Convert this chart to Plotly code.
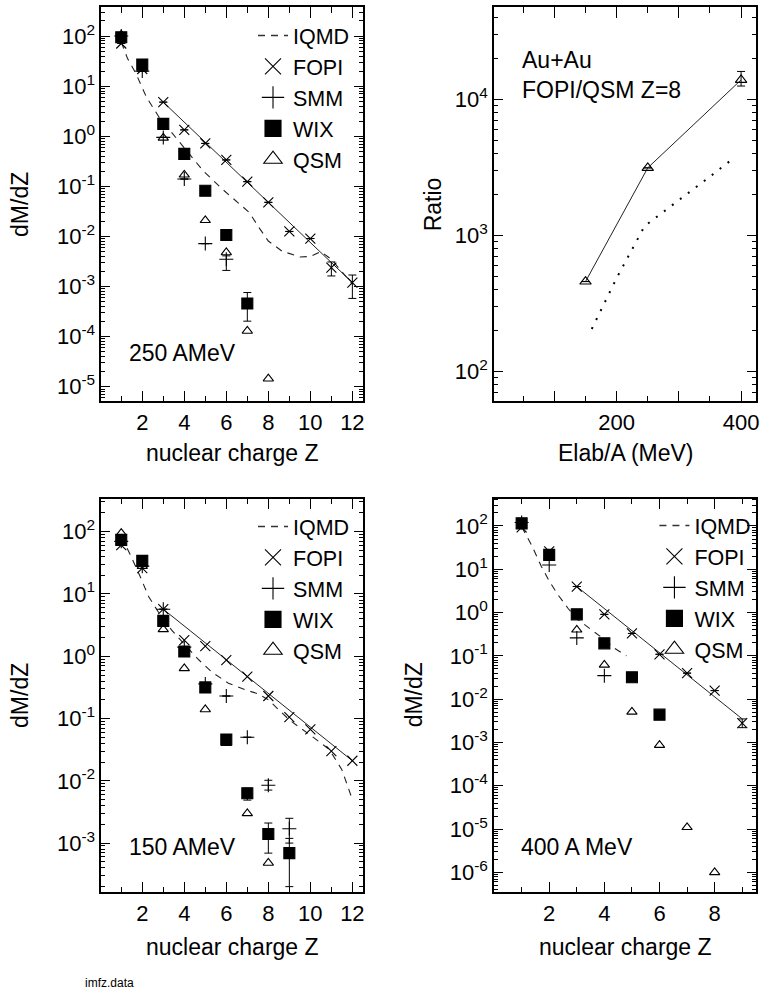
import plotly.graph_objects as go

# ---------------- data ----------------
# 250 AMeV panel
Z_FOPI_250 = [1, 2, 3, 4, 5, 6, 7, 8, 9, 10, 11, 12]
FOPI_250 = [71, 22, 4.8, 1.34, 0.72, 0.337, 0.124, 0.048, 0.0126, 0.0091, 0.0024, 0.0012]
FOPI_250_UP = [None, None, None, None, None, None, None, None, None, None, 0.0007, 0.0005]
FOPI_250_DN = [None, None, None, None, None, None, None, None, None, None, 0.00077, 0.00062]
Z_SMM_250 = [1, 2, 3, 4, 5, 6]
SMM_250 = [100, 20, 0.95, 0.14, 0.0072, 0.0035]
SMM_250_UP = [None, None, None, None, None, 0.0006]
SMM_250_DN = [None, None, None, None, None, 0.0014]
Z_WIX_250 = [1, 2, 3, 4, 5, 6, 7]
WIX_250 = [95, 27, 1.77, 0.445, 0.082, 0.0107, 0.00046]
WIX_250_UP = [None, None, None, None, None, None, 0.0003]
WIX_250_DN = [None, None, None, None, None, None, 0.000256]
Z_QSM_250 = [1, 2, 3, 4, 5, 6, 7, 8]
QSM_250 = [105, 22, 0.93, 0.17, 0.021, 0.0048, 0.00013, 1.45e-5]
Z_IQMD_250 = [1.0, 1.3, 1.7, 2.2, 2.8, 3.4, 4.1, 4.9, 5.8, 6.7, 7.1, 7.55, 8.0, 8.65, 9.5,
              10.0, 10.5, 11.0, 11.5, 12.0]
IQMD_250 = [75.9, 35.5, 17.8, 6.0, 2.4, 1.2, 0.51, 0.204, 0.089, 0.043, 0.030, 0.0151, 0.0081,
            0.0051, 0.0039, 0.0040, 0.0050, 0.0035, 0.0020, 0.00112]
Z_FIT_250 = [3, 12]
FIT_250 = [4.8, 0.0012]

# ratio panel
E_RATIO = [150, 250, 400]
RATIO = [457, 3130, 13870]
RATIO_UP = [None, None, 2130]
RATIO_DN = [None, None, 1370]
E_RATIO_IQMD = [160, 200, 245, 300, 350, 390]
RATIO_IQMD = [205, 485, 1170, 1800, 2700, 3750]

# 150 AMeV panel
Z_FOPI_150 = [1, 2, 3, 4, 5, 6, 7, 8, 9, 10, 11, 12]
FOPI_150 = [61, 26, 5.7, 1.82, 1.46, 0.87, 0.47, 0.23, 0.105, 0.067, 0.030, 0.021]
Z_SMM_150 = [1, 2, 3, 4, 5, 6, 7, 8, 9]
SMM_150 = [70, 28, 5.7, 1.4, 0.36, 0.23, 0.050, 0.0085, 0.0017]
SMM_150_UP = [None, None, None, None, None, None, None, 0.0017, 0.0008]
SMM_150_DN = [None, None, None, None, None, None, None, 0.0014, 0.0007]
Z_WIX_150 = [1, 2, 3, 4, 5, 6, 7, 8, 9]
WIX_150 = [74, 34, 3.7, 1.19, 0.316, 0.046, 0.0063, 0.0014, 0.00069]
WIX_150_UP = [None, None, None, None, None, None, 0.0013, 0.0007, 0.0005]
WIX_150_DN = [None, None, None, None, None, None, 0.0014, 0.00071, 0.00049]
Z_QSM_150 = [1, 2, 3, 4, 5, 6, 7, 8]
QSM_150 = [95, 28, 2.7, 0.64, 0.14, 0.040, 0.0030, 0.00048]
Z_IQMD_150 = [1.0, 1.4, 1.9, 2.3, 2.8, 3.4, 4.1, 4.7, 5.3, 6.1, 6.9, 7.5, 8.0, 9.0, 10.1,
              10.9, 11.5, 12.0]
IQMD_150 = [83, 44.7, 19.1, 9.1, 4.9, 2.63, 1.43, 0.87, 0.56, 0.37, 0.29, 0.25, 0.20, 0.095,
            0.051, 0.032, 0.0151, 0.0050]
Z_FIT_150 = [3, 12]
FIT_150 = [5.7, 0.021]

# 400 A MeV panel
Z_FOPI_400 = [1, 2, 3, 4, 5, 6, 7, 8, 9]
FOPI_400 = [93, 26, 4.0, 0.91, 0.33, 0.109, 0.040, 0.0158, 0.0028]
FOPI_400_UP = [None, None, None, None, None, None, None, None, 0.0007]
FOPI_400_DN = [None, None, None, None, None, None, None, None, 0.0006]
Z_SMM_400 = [1, 2, 3, 4]
SMM_400 = [120, 12.6, 0.26, 0.035]
Z_WIX_400 = [1, 2, 3, 4, 5, 6]
WIX_400 = [115, 21.5, 0.91, 0.195, 0.032, 0.0044]
Z_QSM_400 = [1, 2, 3, 4, 5, 6, 7, 8]
QSM_400 = [100, 20, 0.40, 0.062, 0.0051, 0.00087, 1.1e-5, 1.0e-6]
Z_IQMD_400 = [1.0, 1.36, 1.72, 2.02, 2.32, 2.68, 3.01, 3.52, 4.02, 4.36, 4.8]
IQMD_400 = [95.5, 36.3, 11.5, 5.1, 2.57, 1.26, 0.71, 0.40, 0.234, 0.151, 0.10]
Z_FIT_400 = [3, 9]
FIT_400 = [4.0, 0.0035]

LEGEND_NAMES = ["IQMD", "FOPI", "SMM", "WIX", "QSM"]

# ---------------- styling ----------------
W, H = 765, 991
FONT = "Liberation Sans, Arial, Helvetica, sans-serif"
BLACK = "#000000"
DASH = "7px,6px"

def px_x(p):
    return p / W

def px_y(p):
    return 1 - p / H

MSYM = {"FOPI": "x-thin-open", "SMM": "cross-thin-open", "WIX": "square", "QSM": "triangle-up-open"}
MSIZE = {"FOPI": 10, "SMM": 10, "WIX": 11, "QSM": 9}

fig = go.Figure()

def err(up, dn):
    if up is None:
        return None
    return dict(type="data", symmetric=False, array=up, arrayminus=dn,
                color=BLACK, thickness=1, width=4)

def markers(x, y, name, xa, ya, up=None, dn=None):
    fig.add_trace(go.Scatter(
        x=x, y=y, mode="markers", xaxis=xa, yaxis=ya, showlegend=False,
        marker=dict(symbol=MSYM[name], size=MSIZE[name], color=BLACK,
                    line=dict(color=BLACK, width=1.1)),
        error_y=err(up, dn)))

def line(x, y, xa, ya, dash=None, width=1, color="#222222"):
    fig.add_trace(go.Scatter(
        x=x, y=y, mode="lines", xaxis=xa, yaxis=ya, showlegend=False,
        line=dict(color=color, width=width, dash=dash)))

def legend_entries(xa, ya, leg):
    for nm in LEGEND_NAMES:
        if nm == "IQMD":
            fig.add_trace(go.Scatter(x=[None], y=[None], mode="lines", name=nm,
                                     xaxis=xa, yaxis=ya, legend=leg,
                                     line=dict(color="#333333", width=1.3, dash=DASH)))
        else:
            fig.add_trace(go.Scatter(x=[None], y=[None], mode="markers", name=nm,
                                     xaxis=xa, yaxis=ya, legend=leg,
                                     marker=dict(symbol=MSYM[nm], size=16, color=BLACK,
                                                 line=dict(color=BLACK, width=1.1))))

# panel TL : 250 AMeV
line(Z_IQMD_250, IQMD_250, "x", "y", dash=DASH, width=1.1)
line(Z_FIT_250, FIT_250, "x", "y")
markers(Z_QSM_250, QSM_250, "QSM", "x", "y")
markers(Z_SMM_250, SMM_250, "SMM", "x", "y", SMM_250_UP, SMM_250_DN)
markers(Z_WIX_250, WIX_250, "WIX", "x", "y", WIX_250_UP, WIX_250_DN)
markers(Z_FOPI_250, FOPI_250, "FOPI", "x", "y", FOPI_250_UP, FOPI_250_DN)
legend_entries("x", "y", "legend")

# panel TR : ratio
line(E_RATIO_IQMD, RATIO_IQMD, "x2", "y2", dash="2px,8px", width=2, color=BLACK)
fig.add_trace(go.Scatter(
    x=E_RATIO, y=RATIO, mode="lines+markers", xaxis="x2", yaxis="y2", showlegend=False,
    line=dict(color="#222222", width=1),
    marker=dict(symbol="triangle-up-open", size=10, color=BLACK, line=dict(color=BLACK, width=1.1)),
    error_y=err(RATIO_UP, RATIO_DN)))

# panel BL : 150 AMeV
line(Z_IQMD_150, IQMD_150, "x3", "y3", dash=DASH, width=1.1)
line(Z_FIT_150, FIT_150, "x3", "y3")
markers(Z_QSM_150, QSM_150, "QSM", "x3", "y3")
markers(Z_SMM_150, SMM_150, "SMM", "x3", "y3", SMM_150_UP, SMM_150_DN)
markers(Z_WIX_150, WIX_150, "WIX", "x3", "y3", WIX_150_UP, WIX_150_DN)
markers(Z_FOPI_150, FOPI_150, "FOPI", "x3", "y3")
legend_entries("x3", "y3", "legend2")

# panel BR : 400 A MeV
line(Z_IQMD_400, IQMD_400, "x4", "y4", dash=DASH, width=1.1)
line(Z_FIT_400, FIT_400, "x4", "y4")
markers(Z_QSM_400, QSM_400, "QSM", "x4", "y4")
markers(Z_SMM_400, SMM_400, "SMM", "x4", "y4")
markers(Z_WIX_400, WIX_400, "WIX", "x4", "y4")
markers(Z_FOPI_400, FOPI_400, "FOPI", "x4", "y4", FOPI_400_UP, FOPI_400_DN)
legend_entries("x4", "y4", "legend3")

# ---------------- axes ----------------
def sup(k):
    return "10<sup>%d</sup>" % k

def log_axis(lo, hi, domain, anchor, kmin, kmax):
    vals = [10.0 ** k for k in range(kmin, kmax + 1)]
    minor = [m * 10.0 ** k for k in range(kmin - 1, kmax + 1) for m in range(2, 10)]
    return dict(type="log", range=[lo, hi], domain=domain, anchor=anchor,
                tickmode="array", tickvals=vals, ticktext=[sup(k) for k in range(kmin, kmax + 1)],
                ticks="inside", ticklen=9, tickwidth=1.2, tickcolor=BLACK,
                minor=dict(tickmode="array", tickvals=minor, ticks="inside", ticklen=4,
                           tickwidth=1, tickcolor=BLACK, showgrid=False),
                showline=True, linecolor=BLACK, linewidth=1.6, mirror="ticks",
                showgrid=False, zeroline=False,
                tickfont=dict(family=FONT, size=22, color=BLACK))

def lin_axis(rng, domain, anchor, tv, tt, mv):
    return dict(type="linear", range=rng, domain=domain, anchor=anchor,
                tickmode="array", tickvals=tv, ticktext=tt,
                ticks="inside", ticklen=11, tickwidth=1.2, tickcolor=BLACK,
                minor=dict(tickmode="array", tickvals=mv, ticks="inside", ticklen=6,
                           tickwidth=1, tickcolor=BLACK, showgrid=False),
                showline=True, linecolor=BLACK, linewidth=1.6, mirror="ticks",
                showgrid=False, zeroline=False,
                tickfont=dict(family=FONT, size=22, color=BLACK))

XL = [px_x(101.7), px_x(364.3)]
XR = [px_x(496.0), px_x(759.0)]
YT = [px_y(401.3), px_y(6.7)]
YB = [px_y(892.3), px_y(498.5)]

Z_TV = [2, 4, 6, 8, 10, 12]
Z_MV = [1, 3, 5, 7, 9, 11]

fig.update_layout(
    xaxis=lin_axis([0.05, 12.5], XL, "y", Z_TV, [str(v) for v in Z_TV], Z_MV),
    yaxis=log_axis(-5.29, 2.586, YT, "x", -5, 2),
    xaxis2=lin_axis([3, 424], XR, "y2", [100, 200, 300, 400], ["", "200", "", "400"],
                    [50, 150, 250, 350]),
    yaxis2=log_axis(1.78, 4.68, YT, "x2", 2, 4),
    xaxis3=lin_axis([0.05, 12.5], XL, "y3", Z_TV, [str(v) for v in Z_TV], Z_MV),
    yaxis3=log_axis(-3.79, 2.533, YB, "x3", -3, 2),
    xaxis4=lin_axis([0, 9.5], XR, "y4", [2, 4, 6, 8], ["2", "4", "6", "8"], [1, 3, 5, 7, 9]),
    yaxis4=log_axis(-6.46, 2.635, YB, "x4", -6, 2),
)

legend_common = dict(xanchor="left", yanchor="top", bgcolor="rgba(0,0,0,0)",
                     font=dict(family=FONT, size=21.5, color=BLACK), itemwidth=30,
                     tracegroupgap=0, traceorder="normal", borderwidth=0)
fig.update_layout(
    legend=dict(x=px_x(254), y=px_y(15), **legend_common),
    legend2=dict(x=px_x(254), y=px_y(506), **legend_common),
    legend3=dict(x=px_x(657), y=px_y(505), **legend_common),
)

# ---------------- text ----------------
ann = []
def text(t, x, y, size=23, xanchor="left", angle=0):
    ann.append(dict(text=t, x=px_x(x), y=px_y(y), xref="paper", yref="paper",
                    xanchor=xanchor, yanchor="middle", showarrow=False, textangle=angle,
                    font=dict(family=FONT, size=size, color=BLACK)))

text("250 AMeV", 128, 353)
text("150 AMeV", 128, 847)
text("400 A MeV", 521, 847)
text("Au+Au", 522, 60)
text("FOPI/QSM Z=8", 522, 90)
text("dM/dZ", 20, 204, xanchor="center", angle=-90)
text("dM/dZ", 20, 695, xanchor="center", angle=-90)
text("dM/dZ", 416, 695, xanchor="center", angle=-90)
text("Ratio", 435, 204, xanchor="center", angle=-90)
text("nuclear charge Z", 233, 453, xanchor="center")
text("nuclear charge Z", 233, 947, xanchor="center")
text("nuclear charge Z", 628, 947, xanchor="center")
text("Elab/A (MeV)", 628, 453, xanchor="center")
text("imfz.data", 83, 983, size=12)

fig.update_layout(
    annotations=ann,
    width=W, height=H,
    margin=dict(l=0, r=0, t=0, b=0),
    paper_bgcolor="white", plot_bgcolor="white",
    font=dict(family=FONT, color=BLACK),
    showlegend=True,
)

fig.write_html(
    "out.html",
    config={"displayModeBar": False},
    post_script="document.documentElement.style.margin='0';document.body.style.margin='0';"
                "document.body.style.overflow='hidden';",
)
